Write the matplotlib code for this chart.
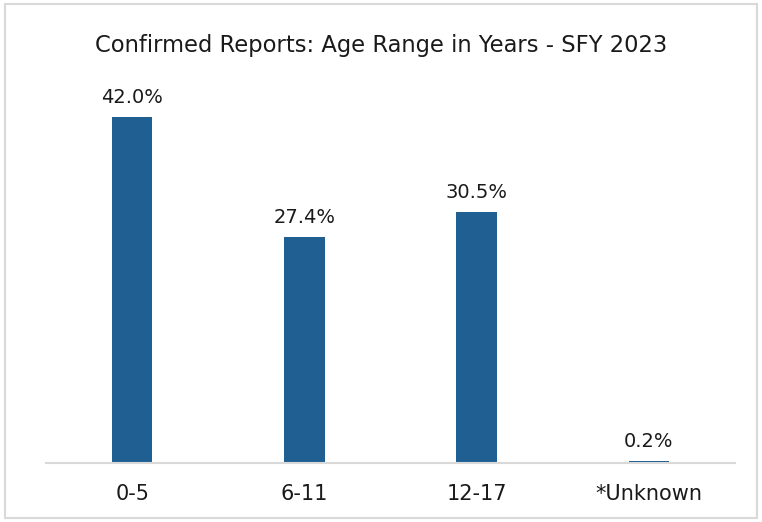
import matplotlib
matplotlib.use('Agg')
import matplotlib.pyplot as plt
from matplotlib.patches import Rectangle

# Data
categories = ['0-5', '6-11', '12-17', '*Unknown']
percentages = [42.0, 27.4, 30.5, 0.2]

bar_color = '#1f5f91'
grid_gray = '#d9d9d9'

fig = plt.figure(figsize=(7.62, 5.22), dpi=100)
ax = fig.add_axes([0.0604, 0.113, 0.904, 0.710])

x = range(len(categories))
bars = ax.bar(x, percentages, width=0.235, color=bar_color)

# Value labels above bars
for xi, v in zip(x, percentages):
    ax.text(xi, v + 1.2, f'{v:.1f}%', ha='center', va='bottom',
            fontsize=14, color='#1a1a1a')

ax.set_xlim(-0.5, len(categories) - 0.5)
ax.set_ylim(0, 45)
ax.set_xticks(list(x))
ax.set_xticklabels(categories, fontsize=15, color='#1a1a1a')
ax.tick_params(axis='x', length=0, pad=15)
ax.set_yticks([])

for side in ['top', 'right', 'left']:
    ax.spines[side].set_visible(False)
ax.spines['bottom'].set_color(grid_gray)
ax.spines['bottom'].set_linewidth(1.5)

fig.text(0.5, 0.913, 'Confirmed Reports: Age Range in Years - SFY 2023',
         ha='center', va='center', fontsize=16.3, color='#1a1a1a')

# Outer chart border
fig.patches.append(Rectangle((0.007, 0.008), 0.986, 0.984, transform=fig.transFigure,
                             fill=False, edgecolor=grid_gray, linewidth=1.5))

fig.savefig('out.png', dpi=100)
plt.close(fig)
